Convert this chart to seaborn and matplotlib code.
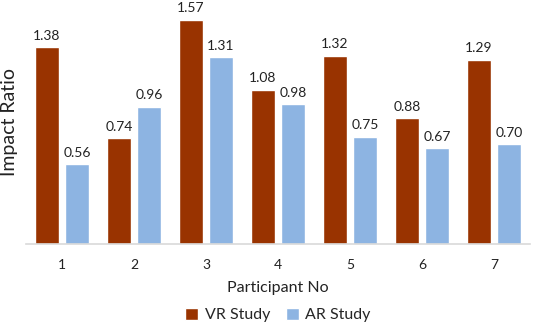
import matplotlib
matplotlib.use("Agg")
import matplotlib.pyplot as plt
import seaborn as sns
import pandas as pd

participants = ["1", "2", "3", "4", "5", "6", "7"]
vr_values = [1.38, 0.74, 1.57, 1.08, 1.32, 0.88, 1.29]
ar_values = [0.56, 0.96, 1.31, 0.98, 0.75, 0.67, 0.70]
series = ["VR Study", "AR Study"]
colors = ["#993300", "#8DB4E2"]

df = pd.DataFrame({
    "Participant": participants * 2,
    "Value": vr_values + ar_values,
    "Study": [series[0]] * len(participants) + [series[1]] * len(participants),
})

sns.set_style("white")
plt.rcParams["font.family"] = ["Lato", "DejaVu Sans"]

fig = plt.figure(figsize=(5.33, 3.22), dpi=100)
ax = fig.add_axes([26 / 533, (322 - 244) / 322, 504 / 533, 244 / 322])
sns.barplot(data=df, x="Participant", y="Value", hue="Study", palette=colors,
            width=0.833, gap=0.2, saturation=1, ax=ax, legend=True)

for cont in ax.containers:
    ax.bar_label(cont, fmt="%.2f", padding=4, fontsize=10, color="#222222")

ax.set_ylim(0, 1.71)
ax.set_xlim(-0.5, 6.5)
ax.set_yticks([])
for s in ["top", "right", "left"]:
    ax.spines[s].set_visible(False)
ax.spines["bottom"].set_color("#D9D9D9")
ax.spines["bottom"].set_linewidth(1.2)
ax.tick_params(axis="x", length=0, labelsize=10, pad=11, colors="#222222")
ax.set_xlabel("Participant No", fontsize=11.5, labelpad=7, color="#222222")
ax.set_ylabel("Impact Ratio", fontsize=14, labelpad=6, color="#222222")

ax.legend(loc="upper center", bbox_to_anchor=(0.5, -0.235), ncol=2, frameon=False,
          fontsize=11.5, handlelength=0.8, handleheight=0.8, handletextpad=0.4,
          columnspacing=1.0, borderaxespad=0)

fig.savefig("out.png", dpi=100)
